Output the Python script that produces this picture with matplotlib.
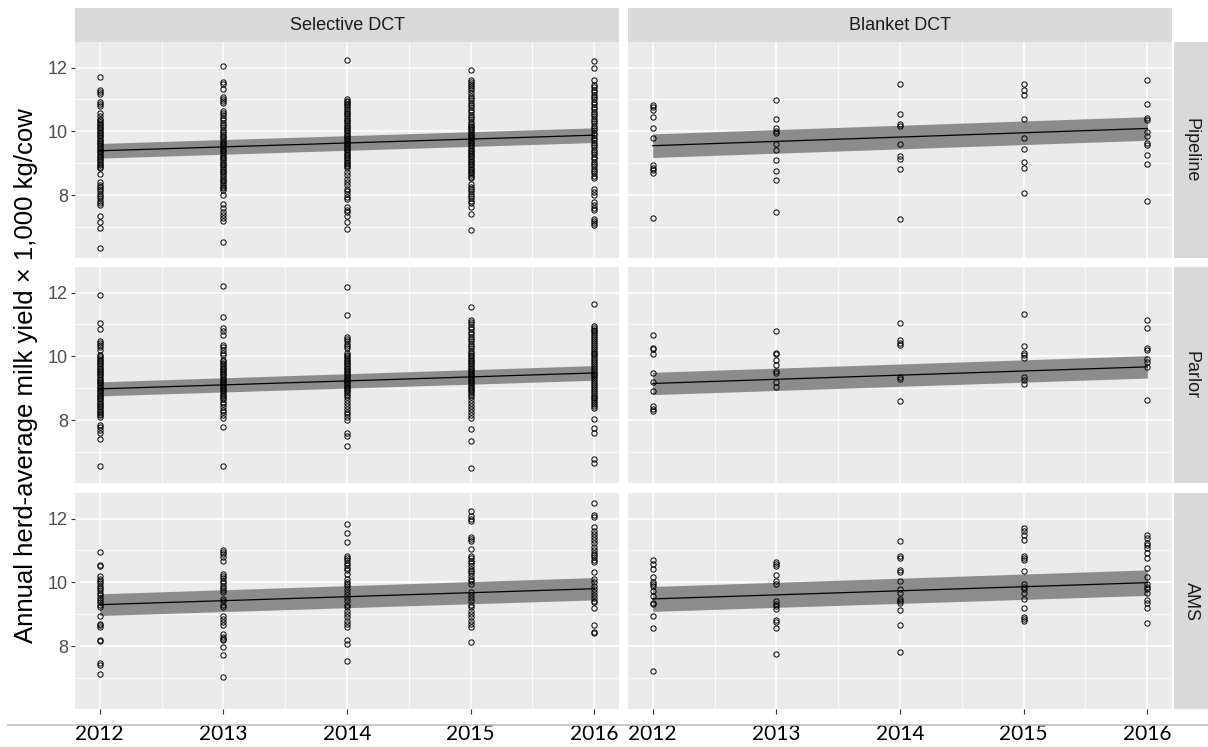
import numpy as np
import matplotlib
matplotlib.use("Agg")
import matplotlib.pyplot as plt
from matplotlib.lines import Line2D

# facets
rows = ["Pipeline", "Parlor", "AMS"]
cols = ["Selective DCT", "Blanket DCT"]
years = [2012, 2013, 2014, 2015, 2016]

# herd averages (x 1,000 kg/cow), one list per year
pipeline_selective = [
    [11.71, 11.31, 11.24, 11.17, 10.93, 10.86, 10.78, 10.57, 10.49, 10.39, 10.34, 10.29, 10.24, 10.19,
     10.14, 10.09, 10.04, 9.99, 9.94, 9.89, 9.84, 9.79, 9.74, 9.69, 9.64, 9.59, 9.54, 9.49, 9.44, 9.39,
     9.34, 9.29, 9.24, 9.19, 9.14, 9.09, 9.04, 8.99, 8.94, 8.89, 8.84, 8.67, 8.41, 8.33, 8.25, 8.2, 8.12,
     8.05, 7.97, 7.9, 7.82, 7.76, 7.7, 7.36, 7.16, 6.97, 6.34],
    [12.05, 11.55, 11.48, 11.32, 11.09, 11.02, 10.96, 10.9, 10.65, 10.58, 10.5, 10.42, 10.35, 10.27, 10.2,
     10.13, 10.03, 9.97, 9.92, 9.86, 9.81, 9.75, 9.7, 9.64, 9.59, 9.53, 9.48, 9.42, 9.37, 9.31, 9.26, 9.2,
     9.15, 9.09, 9.04, 8.98, 8.93, 8.87, 8.82, 8.76, 8.71, 8.65, 8.6, 8.54, 8.49, 8.43, 8.38, 8.32, 8.27,
     8.21, 8.15, 7.99, 7.71, 7.6, 7.47, 7.38, 7.28, 7.18, 6.53],
    [12.24, 11.0, 10.96, 10.91, 10.86, 10.81, 10.75, 10.7, 10.64, 10.59, 10.53, 10.48, 10.42, 10.37, 10.31,
     10.26, 10.2, 10.15, 10.1, 10.05, 10.0, 9.95, 9.9, 9.85, 9.8, 9.75, 9.7, 9.65, 9.6, 9.55, 9.5, 9.45,
     9.4, 9.35, 9.3, 9.25, 9.2, 9.15, 9.1, 9.05, 9.0, 8.95, 8.9, 8.85, 8.72, 8.64, 8.52, 8.42, 8.33, 8.2,
     8.12, 8.04, 7.95, 7.89, 7.63, 7.55, 7.46, 7.36, 7.16, 6.93],
    [11.91, 11.61, 11.55, 11.48, 11.42, 11.35, 11.28, 11.2, 11.12, 11.05, 10.98, 10.9, 10.82, 10.75, 10.67,
     10.6, 10.52, 10.45, 10.38, 10.3, 10.23, 10.18, 10.13, 10.08, 10.03, 9.98, 9.93, 9.88, 9.83, 9.78, 9.73,
     9.68, 9.63, 9.58, 9.53, 9.48, 9.43, 9.38, 9.33, 9.28, 9.23, 9.18, 9.13, 9.08, 9.03, 8.98, 8.93, 8.88,
     8.83, 8.78, 8.73, 8.68, 8.63, 8.58, 8.53, 8.35, 8.27, 8.2, 8.12, 8.05, 7.97, 7.9, 7.82, 7.74, 7.63,
     7.4, 6.9],
    [12.19, 11.97, 11.61, 11.45, 11.38, 11.3, 11.22, 11.15, 11.07, 11.0, 10.92, 10.85, 10.77, 10.7, 10.62,
     10.55, 10.47, 10.4, 10.33, 10.25, 10.18, 10.1, 10.03, 9.95, 9.88, 9.8, 9.73, 9.65, 9.58, 9.5, 9.43,
     9.35, 9.28, 9.2, 9.13, 9.05, 8.98, 8.9, 8.83, 8.75, 8.68, 8.6, 8.53, 8.2, 8.1, 7.99, 7.78, 7.7, 7.6,
     7.52, 7.26, 7.18, 7.12, 7.07],
]
pipeline_blanket = [
    [10.84, 10.76, 10.68, 10.45, 10.1, 9.79, 8.93, 8.86, 8.78, 8.68, 7.27],
    [10.99, 10.4, 10.1, 10.01, 9.95, 9.61, 9.41, 9.11, 8.76, 8.47, 7.47],
    [11.49, 10.53, 10.24, 10.18, 9.61, 9.24, 9.14, 8.82, 7.26],
    [11.49, 11.31, 11.15, 10.4, 9.78, 9.46, 9.04, 8.85, 8.08],
    [11.61, 10.86, 10.42, 10.34, 9.97, 9.86, 9.64, 9.57, 9.25, 8.97, 7.81],
]
parlor_selective = [
    [11.91, 11.06, 10.86, 10.47, 10.43, 10.35, 10.28, 10.21, 10.05, 10.0, 9.95, 9.9, 9.85, 9.8, 9.75,
     9.7, 9.65, 9.6, 9.55, 9.5, 9.45, 9.4, 9.35, 9.3, 9.25, 9.2, 9.15, 9.1, 9.05, 9.0, 8.95, 8.9, 8.85,
     8.8, 8.75, 8.7, 8.65, 8.6, 8.55, 8.5, 8.45, 8.4, 8.35, 8.3, 8.25, 8.2, 8.15, 8.1, 7.86, 7.78, 7.7,
     7.6, 7.42, 6.56],
    [12.22, 11.23, 10.89, 10.78, 10.66, 10.36, 10.28, 10.2, 10.12, 10.05, 9.9, 9.85, 9.8, 9.75, 9.7,
     9.65, 9.6, 9.55, 9.5, 9.45, 9.4, 9.35, 9.3, 9.25, 9.2, 9.15, 9.1, 9.05, 9.0, 8.95, 8.9, 8.85, 8.8,
     8.75, 8.7, 8.65, 8.58, 8.5, 8.42, 8.33, 8.25, 8.16, 8.07, 7.78, 6.56],
    [12.17, 11.28, 10.62, 10.55, 10.48, 10.4, 10.33, 10.26, 10.1, 10.05, 10.0, 9.95, 9.9, 9.85, 9.8,
     9.75, 9.7, 9.65, 9.6, 9.55, 9.5, 9.45, 9.4, 9.35, 9.3, 9.25, 9.2, 9.15, 9.1, 9.05, 9.0, 8.95, 8.9,
     8.85, 8.8, 8.72, 8.64, 8.55, 8.45, 8.35, 8.25, 8.18, 8.1, 8.02, 7.6, 7.5, 7.19],
    [11.54, 11.15, 11.08, 11.0, 10.92, 10.85, 10.77, 10.7, 10.62, 10.55, 10.47, 10.4, 10.32, 10.25, 10.17,
     10.1, 10.05, 10.0, 9.95, 9.9, 9.85, 9.8, 9.75, 9.7, 9.65, 9.6, 9.55, 9.5, 9.45, 9.4, 9.35, 9.3, 9.25,
     9.2, 9.15, 9.1, 9.05, 9.0, 8.95, 8.9, 8.85, 8.8, 8.72, 8.64, 8.55, 8.45, 8.35, 8.25, 8.16, 8.07,
     7.73, 7.36, 6.51],
    [11.64, 10.96, 10.9, 10.84, 10.78, 10.72, 10.66, 10.6, 10.54, 10.48, 10.42, 10.36, 10.3, 10.24, 10.18,
     10.12, 10.06, 10.0, 9.94, 9.88, 9.82, 9.76, 9.7, 9.64, 9.58, 9.52, 9.46, 9.4, 9.34, 9.28, 9.22, 9.16,
     9.1, 9.04, 8.98, 8.92, 8.86, 8.8, 8.74, 8.68, 8.62, 8.56, 8.5, 8.45, 8.39, 8.04, 7.76, 7.6, 6.77,
     6.67],
]
parlor_blanket = [
    [10.66, 10.27, 10.22, 10.08, 9.49, 9.2, 8.91, 8.45, 8.36, 8.29],
    [10.79, 10.11, 10.06, 9.88, 9.72, 9.54, 9.47, 9.18, 9.05],
    [11.03, 10.51, 10.43, 10.34, 9.35, 9.3, 8.6],
    [11.34, 10.32, 10.11, 10.03, 9.94, 9.36, 9.25, 9.13],
    [11.14, 10.9, 10.25, 10.19, 9.91, 9.82, 9.67, 8.64],
]
ams_selective = [
    [10.94, 10.54, 10.5, 10.19, 10.12, 10.05, 9.98, 9.9, 9.82, 9.75, 9.68, 9.6, 9.52, 9.45, 9.38, 9.3,
     9.22, 8.93, 8.7, 8.65, 8.6, 8.2, 8.15, 7.47, 7.42, 7.14],
    [11.02, 10.95, 10.88, 10.78, 10.68, 10.26, 10.2, 10.13, 10.05, 9.98, 9.9, 9.82, 9.75, 9.69, 9.48,
     9.4, 9.3, 9.22, 8.94, 8.85, 8.75, 8.65, 8.39, 8.3, 8.22, 8.18, 7.97, 7.71, 7.03],
    [11.84, 11.54, 11.25, 10.83, 10.77, 10.7, 10.62, 10.55, 10.45, 10.38, 10.26, 10.1, 10.02, 9.95, 9.88,
     9.8, 9.7, 9.6, 9.5, 9.42, 9.3, 9.22, 9.11, 9.0, 8.9, 8.8, 8.7, 8.59, 8.2, 8.07, 7.52],
    [12.24, 12.08, 12.0, 11.93, 11.41, 11.35, 11.3, 11.04, 10.83, 10.76, 10.68, 10.6, 10.5, 10.42, 10.35,
     10.28, 10.2, 10.12, 10.03, 9.95, 9.69, 9.6, 9.5, 9.4, 9.3, 9.22, 9.11, 9.0, 8.9, 8.8, 8.7, 8.59,
     8.12],
    [12.5, 12.1, 12.06, 11.72, 11.62, 11.52, 11.42, 11.32, 11.22, 11.12, 11.02, 10.92, 10.85, 10.78, 10.7,
     10.63, 10.31, 10.1, 10.0, 9.9, 9.8, 9.7, 9.6, 9.5, 9.42, 9.37, 9.19, 8.67, 8.45, 8.42],
]
ams_blanket = [
    [10.69, 10.58, 10.43, 10.16, 10.01, 9.94, 9.89, 9.73, 9.57, 9.36, 9.31, 8.95, 8.56, 7.22],
    [10.65, 10.58, 10.51, 10.22, 10.03, 9.96, 9.42, 9.33, 9.26, 9.16, 8.82, 8.77, 8.56, 7.76],
    [11.29, 10.84, 10.77, 10.38, 10.32, 10.04, 9.78, 9.66, 9.49, 9.42, 9.34, 9.14, 8.67, 7.82],
    [11.71, 11.6, 11.47, 11.34, 10.84, 10.77, 10.69, 10.34, 9.94, 9.85, 9.78, 9.68, 9.47, 9.2, 8.9,
     8.84, 8.79],
    [11.47, 11.4, 11.24, 11.16, 11.08, 10.93, 10.77, 10.46, 10.18, 9.94, 9.86, 9.78, 9.68, 9.45, 9.36,
     9.21, 8.74],
]

# fitted trend and band half-width, panel order: row by row, Selective then Blanket
fit_2012 = [9.39, 9.55, 8.98, 9.15, 9.30, 9.48]
fit_2016 = [9.88, 10.09, 9.48, 9.67, 9.80, 9.99]
ci_2012 = [0.23, 0.37, 0.22, 0.35, 0.34, 0.39]
ci_2016 = [0.23, 0.37, 0.23, 0.35, 0.35, 0.40]

panels = [pipeline_selective, pipeline_blanket,
          parlor_selective, parlor_blanket,
          ams_selective, ams_blanket]

W, H = 1208, 747
fig = plt.figure(figsize=(W / 100, H / 100), dpi=100)
fig.patch.set_facecolor("white")

col_x = [75, 628]
panel_w = 544
row_y = [42, 267, 493]
panel_h = 216
strip_col = "#D9D9D9"


def box(x, y, w, h):
    # pixel box (top-left origin) -> figure fraction
    return [x / W, 1 - (y + h) / H, w / W, h / H]


for r, row_name in enumerate(rows):
    for c, col_name in enumerate(cols):
        k = r * 2 + c
        ax = fig.add_axes(box(col_x[c], row_y[r], panel_w, panel_h))
        ax.set_facecolor("#EBEBEB")
        for s in ax.spines.values():
            s.set_visible(False)
        ax.set_xlim(2011.8, 2016.2)
        ax.set_ylim(6.03, 12.8)
        ax.set_xticks(years)
        ax.set_xticks([2012.5, 2013.5, 2014.5, 2015.5], minor=True)
        ax.set_yticks([8, 10, 12])
        ax.set_yticks([7, 9, 11], minor=True)
        ax.grid(True, which="major", color="white", lw=1.1)
        ax.grid(True, which="minor", color="white", lw=0.55)
        ax.set_axisbelow(True)
        ax.tick_params(which="minor", length=0)
        ax.tick_params(axis="y", length=3, color="#333333", width=0.8,
                       labelsize=13, labelcolor="#4D4D4D", pad=2)
        ax.tick_params(axis="x", length=3.5, color="#333333", width=0.8,
                       labelsize=15, labelcolor="black", pad=7)
        for lab in ax.get_xticklabels():
            lab.set_family("Lato")
        for lab in ax.get_yticklabels():
            lab.set_family("Liberation Sans")
        if c == 1:
            ax.tick_params(axis="y", left=False, labelleft=False)
        if r < 2:
            ax.tick_params(axis="x", bottom=False, labelbottom=False)

        # band + trend line
        xs = [2012, 2016]
        lo = [fit_2012[k] - ci_2012[k], fit_2016[k] - ci_2016[k]]
        hi = [fit_2012[k] + ci_2012[k], fit_2016[k] + ci_2016[k]]
        ax.fill_between(xs, lo, hi, color="#8C8C8C", lw=0, zorder=2)

        data = panels[k]
        for yr, vals in zip(years, data):
            ax.plot([yr] * len(vals), vals, "o", ms=3.8, mfc="none", mec="black",
                    mew=0.7, zorder=3)
        ax.plot(xs, [fit_2012[k], fit_2016[k]], color="black", lw=0.9, zorder=4)

        # column strips on top
        if r == 0:
            sax = fig.add_axes(box(col_x[c], 8, panel_w, 34))
            sax.set_facecolor(strip_col)
            sax.set_xticks([])
            sax.set_yticks([])
            for s in sax.spines.values():
                s.set_visible(False)
            sax.text(0.5, 0.5, col_name, ha="center", va="center", fontsize=13,
                     color="#1A1A1A", family="Liberation Sans", transform=sax.transAxes)

    # row strip on the right
    rax = fig.add_axes(box(1174, row_y[r], 34, panel_h))
    rax.set_facecolor(strip_col)
    rax.set_xticks([])
    rax.set_yticks([])
    for s in rax.spines.values():
        s.set_visible(False)
    rax.text(0.5, 0.5, row_name, ha="center", va="center", rotation=-90, fontsize=13,
             color="#1A1A1A", family="Liberation Sans", transform=rax.transAxes)

fig.text(26 / W, 1 - 376 / H, "Annual herd-average milk yield \u00d7 1,000 kg/cow",
         rotation=90, ha="center", va="center", fontsize=18.5, color="black",
         family="Liberation Sans")

# thin grey rule under the panels
fig.add_artist(Line2D([8 / W, 1.0], [1 - 725 / H, 1 - 725 / H], color="#BFBFBF", lw=1.2,
                      transform=fig.transFigure))

fig.savefig("out.png", dpi=100)
